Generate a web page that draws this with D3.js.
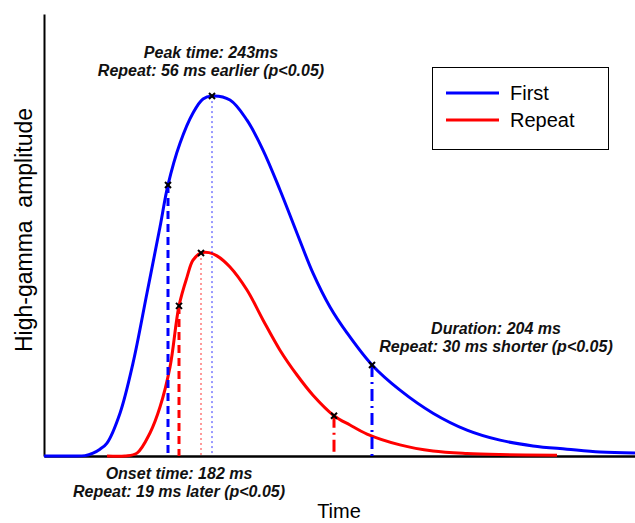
<!DOCTYPE html>
<html>
<head>
<meta charset="utf-8">
<script src="https://cdn.jsdelivr.net/npm/d3@7"></script>
<style>
body { margin: 0; background: #fff; }
svg { display: block; font-family: "Liberation Sans", Arial, Helvetica, sans-serif; }
</style>
</head>
<body>
<svg width="635" height="523"></svg>
<script>
/* SECTION: data */

// time in arbitrary units, amplitude normalised to the first-presentation peak
var firstT = [0, 26, 41, 49, 56, 63, 76, 89, 103, 116, 124, 136, 149, 159, 168, 186, 203, 219, 236, 253, 269, 286, 303, 328, 356, 389, 423, 456, 489, 523, 556, 591];
var firstA = [0, 0, 0.001, 0.008, 0.019, 0.036, 0.119, 0.258, 0.453, 0.636, 0.753, 0.869, 0.953, 0.992, 1.0, 0.989, 0.933, 0.85, 0.739, 0.619, 0.508, 0.414, 0.342, 0.253, 0.183, 0.119, 0.072, 0.044, 0.028, 0.019, 0.011, 0.008];

var repeatT = [63, 81, 93, 106, 116, 126, 135, 143, 149, 157, 165, 173, 186, 203, 219, 236, 253, 269, 290, 306, 323, 356, 389, 423, 456, 513];
var repeatA = [0, 0, 0.008, 0.064, 0.136, 0.247, 0.417, 0.497, 0.544, 0.564, 0.565, 0.556, 0.525, 0.461, 0.378, 0.294, 0.225, 0.169, 0.112, 0.086, 0.061, 0.031, 0.014, 0.007, 0.004, 0.002];

// onset, peak and duration points marked on each curve
var firstMarkT = [124, 168, 328];
var firstMarkA = [0.753, 1.0, 0.253];
var repeatMarkT = [135, 157, 290];
var repeatMarkA = [0.417, 0.564, 0.112];

var seriesNames = ["First", "Repeat"];
var seriesColors = ["#0000ff", "#ff0000"];

var peakText = ["Peak time: 243ms", "Repeat: 56 ms earlier (p<0.05)"];
var onsetText = ["Onset time: 182 ms", "Repeat: 19 ms later (p<0.05)"];
var durationText = ["Duration: 204 ms", "Repeat: 30 ms shorter (p<0.05)"];

/* SECTION: setup */

var svg = d3.select("svg");
var x = d3.scaleLinear().domain([0, 591]).range([44, 635]);
var y = d3.scaleLinear().domain([0, 1.228]).range([456, 14]);

function zip(ts, as) {
  return ts.map(function(t, i) { return {t: t, a: as[i]}; });
}

var series = [
  {name: seriesNames[0], color: seriesColors[0], pts: zip(firstT, firstA), marks: zip(firstMarkT, firstMarkA)},
  {name: seriesNames[1], color: seriesColors[1], pts: zip(repeatT, repeatA), marks: zip(repeatMarkT, repeatMarkA)}
];

// axes without ticks, just the spines
svg.append("g").attr("transform", "translate(" + x(0) + ",0)")
   .call(d3.axisLeft(y).tickValues([]).tickSizeOuter(0))
   .select(".domain").attr("stroke", "#000").attr("stroke-width", 2);
svg.append("g").attr("transform", "translate(0," + y(0) + ")")
   .call(d3.axisBottom(x).tickValues([]).tickSizeOuter(0))
   .select(".domain").attr("stroke", "#000").attr("stroke-width", 2.5);

var line = d3.line()
    .x(function(d) { return x(d.t); })
    .y(function(d) { return Math.min(y(d.a), y(0)); })
    .curve(d3.curveCatmullRom.alpha(0.5));

// dash styles for onset / peak / duration drop lines
var dropStyle = [
  {dash: "8,5", width: 3, opacity: 1},
  {dash: "2,3", width: 1, opacity: 0.8},
  {dash: "12,5,2,5", width: 3, opacity: 1}
];

series.forEach(function(s) {
  svg.append("path")
     .datum(s.pts)
     .attr("fill", "none")
     .attr("stroke", s.color)
     .attr("stroke-width", 3)
     .attr("d", line);
});

series.forEach(function(s) {
  svg.append("g").selectAll("line")
     .data(s.marks).enter().append("line")
     .attr("x1", function(d) { return x(d.t); })
     .attr("x2", function(d) { return x(d.t); })
     .attr("y1", function(d) { return y(d.a); })
     .attr("y2", y(0))
     .attr("stroke", s.color)
     .attr("stroke-width", function(d, i) { return dropStyle[i].width; })
     .attr("stroke-dasharray", function(d, i) { return dropStyle[i].dash; })
     .attr("stroke-opacity", function(d, i) { return dropStyle[i].opacity; });
});

// black x markers
series.forEach(function(s) {
  svg.append("g").selectAll("path")
     .data(s.marks).enter().append("path")
     .attr("transform", function(d) { return "translate(" + x(d.t) + "," + y(d.a) + ")"; })
     .attr("d", "M-3,-3L3,3M-3,3L3,-3")
     .attr("stroke", "#000")
     .attr("stroke-width", 2);
});

/* SECTION: text */

function annotate(lines, cx, cy) {
  var t = svg.append("text")
     .attr("text-anchor", "middle")
     .attr("font-size", 16)
     .attr("font-weight", "bold")
     .attr("font-style", "italic")
     .attr("fill", "#111");
  lines.forEach(function(l, i) {
    t.append("tspan").attr("x", cx).attr("y", cy + i * 18).text(l);
  });
}
annotate(peakText, 211, 58);
annotate(onsetText, 179, 479);
annotate(durationText, 496, 334);

svg.append("text")
   .attr("x", 339).attr("y", 518)
   .attr("text-anchor", "middle")
   .attr("font-size", 20)
   .text("Time");

svg.append("text")
   .attr("transform", "translate(32,230) rotate(-90)")
   .attr("text-anchor", "middle")
   .attr("font-size", 23)
   .style("white-space", "pre")
   .text("High-gamma  amplitude");

// legend
var legend = svg.append("g");
legend.append("rect")
   .attr("x", 432.5).attr("y", 67.5).attr("width", 176).attr("height", 82)
   .attr("fill", "#fff").attr("stroke", "#000").attr("stroke-width", 1);
series.forEach(function(s, i) {
  var ly = 93 + i * 27;
  legend.append("line")
     .attr("x1", 446).attr("x2", 499).attr("y1", ly).attr("y2", ly)
     .attr("stroke", s.color).attr("stroke-width", 3);
  legend.append("text")
     .attr("x", 510).attr("y", ly + 6.5)
     .attr("font-size", 20)
     .text(s.name);
});
</script>
</body>
</html>
